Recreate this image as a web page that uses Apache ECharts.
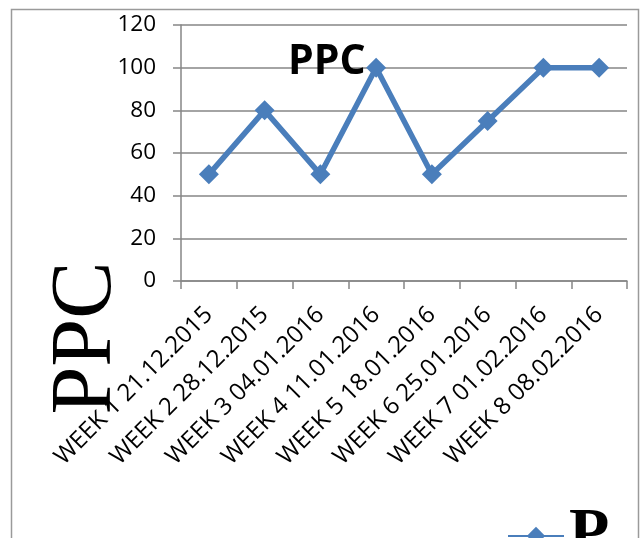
<!DOCTYPE html>
<html>
<head>
<meta charset="utf-8">
<script src="https://cdn.jsdelivr.net/npm/echarts@6/dist/echarts.min.js"></script>
<style>
html,body{margin:0;padding:0;background:#fff;}
#chart{width:641px;height:538px;}
</style>
</head>
<body>
<div id="chart"></div>
<script>
var categories = ['WEEK 1 21.12.2015','WEEK 2 28.12.2015','WEEK 3 04.01.2016','WEEK 4 11.01.2016','WEEK 5 18.01.2016','WEEK 6 25.01.2016','WEEK 7 01.02.2016','WEEK 8 08.02.2016'];
var ppcValues = [50, 80, 50, 100, 50, 75, 100, 100];
var seriesName = 'PPC';
var titleText = 'PPC';
var axisTitle = 'PPC';

var chart = echarts.init(document.getElementById('chart'), null, {renderer: 'canvas'});
var option = {
  animation: false,
  backgroundColor: '#ffffff',
  title: {
    text: titleText,
    left: 288,
    top: 42,
    padding: 0,
    textStyle: {fontFamily: 'Open Sans', fontWeight: 'bold', fontSize: 41, color: '#000'}
  },
  legend: {
    left: 507,
    top: 503,
    padding: 0,
    itemWidth: 56,
    itemHeight: 23,
    data: [seriesName],
    textStyle: {fontFamily: 'Liberation Serif', fontWeight: 'bold', fontSize: 66, color: '#000', width: 42, overflow: 'truncate', ellipsis: ''}
  },
  grid: {left: 181, top: 25, right: 14, bottom: 257, containLabel: false},
  xAxis: {
    type: 'category',
    data: categories,
    boundaryGap: true,
    axisLine: {lineStyle: {color: '#868686', width: 1.5}},
    axisTick: {show: true, length: 8, lineStyle: {color: '#868686', width: 1.5}},
    axisLabel: {rotate: 45, margin: 30, interval: 0, fontFamily: 'Open Sans', fontSize: 24, color: '#000'},
    splitLine: {show: false}
  },
  yAxis: {
    type: 'value',
    min: 0, max: 120, interval: 20,
    axisLine: {show: true, lineStyle: {color: '#868686', width: 1.5}},
    axisTick: {show: true, length: 8, lineStyle: {color: '#868686', width: 1.5}},
    axisLabel: {margin: 25, fontFamily: 'Open Sans', fontSize: 22.5, color: '#000'},
    splitLine: {show: true, lineStyle: {color: '#868686', width: 1.5}}
  },
  graphic: [
    {type: 'rect', z: -1, shape: {x: 11.5, y: 9.5, width: 627, height: 600}, style: {fill: 'none', stroke: '#9a9a9a', lineWidth: 1.5}},
    {type: 'text', x: 87, y: 338, rotation: Math.PI / 2,
     style: {text: axisTitle, font: '86px "Liberation Serif"', fill: '#000', textAlign: 'center', textVerticalAlign: 'middle'}}
  ],
  series: [{
    name: seriesName,
    type: 'line',
    data: ppcValues,
    symbol: 'diamond',
    symbolSize: 20,
    lineStyle: {color: '#4A7EBB', width: 5.5},
    itemStyle: {color: '#4A7EBB'}
  }]
};
chart.setOption(option);
</script>
</body>
</html>
